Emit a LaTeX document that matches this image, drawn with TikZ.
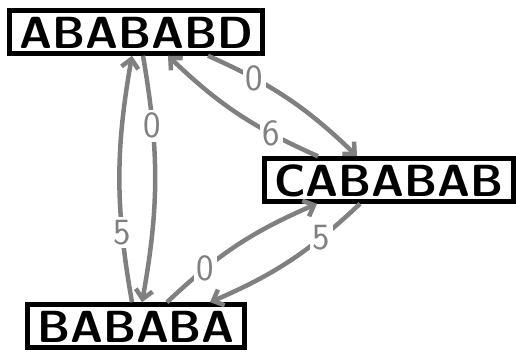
\documentclass[tikz,border=0pt]{standalone}
\usetikzlibrary{arrows.meta}
\definecolor{edgegray}{RGB}{128,128,128}
\begin{document}
\begin{tikzpicture}[x=1pt,y=1pt,
  state/.style={draw, line width=4.5pt, anchor=base,
    font=\fontsize{45}{50}\selectfont\sffamily\bfseries,
    text height=34pt, text depth=0pt, inner xsep=9.5pt, inner ysep=4.5pt},
  link/.style={draw=edgegray, line width=4.5pt, bend left=10,
    -{Straight Barb[length=9pt,width=17pt]}},
  weight/.style={pos=0.27, fill=white, inner sep=3pt, text=edgegray,
    font=\fontsize{37}{40}\selectfont\sffamily}]
  \useasboundingbox (0,0) rectangle (516,352);

  % states
  \node[state] (A) at (136,303) {ABABABD};
  \node[state] (C) at (389,155) {CABABAB};
  \node[state] (B) at (136,9) {BABABA};

  % transitions
  \draw[link] ([xshift=7pt]A.south) to node[weight] {0} ([xshift=6pt]B.north);
  \draw[link] ([xshift=-4pt]B.north) to node[weight] {5} ([xshift=-4pt]A.south);
  \draw[link] ([xshift=72pt]A.south) to node[weight] {0} ([xshift=-32pt]C.north);
  \draw[link] ([xshift=-71pt]C.north) to node[weight] {6} ([xshift=32pt]A.south);
  \draw[link] ([xshift=31pt]B.north) to node[weight] {0} ([xshift=-72pt]C.south);
  \draw[link] ([xshift=-29pt]C.south) to node[weight] {5} ([xshift=74pt]B.north);
\end{tikzpicture}
\end{document}
